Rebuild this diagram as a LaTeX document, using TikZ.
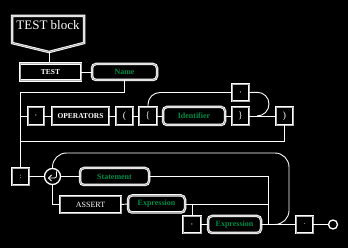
\documentclass[tikz,border=0pt]{standalone}
\usepackage{fontspec}
\setmainfont{Liberation Serif}
\definecolor{grn}{RGB}{0,140,70}
\begin{document}
\begin{tikzpicture}[x=1pt,y=-1pt,
 boxline/.style={draw=white, double=gray!60, line width=0.8pt, double distance=0.9pt},
 box/.style={boxline, inner sep=0pt, minimum height=17pt},
 tbox/.style={box, text=white, font=\fontsize{7.5}{8}\selectfont\bfseries},
 rbox/.style={box, rounded corners=4pt, text=grn, font=\fontsize{8}{9}\selectfont\bfseries},
 sym/.style={box, text=white, font=\fontsize{9.5}{10}\selectfont, minimum width=17pt},
 wire/.style={white, line width=0.9pt},
]
\fill[black] (0,0) rectangle (348,248);
% header
\draw[boxline] (12,16) -- (84,16) -- (84,43) -- (49,52) -- (12,43) -- cycle;
\node[text=white, font=\fontsize{13}{14}\selectfont] (headtxt) at (48,25) {TEST block};
\coordinate (headpt) at (49,52);
% row 1
\node[tbox, minimum width=61pt] (test) at (50.5,72) {TEST};
\node[rbox, minimum width=65pt, minimum height=16pt] (name) at (124.5,72) {Name};
% row 2
\node[sym, minimum height=18pt, minimum width=16pt, font=\fontsize{7}{8}\selectfont] (comma1) at (36,116) {,};
\node[tbox, minimum width=57pt, minimum height=18pt] (ops) at (80.5,116) {OPERATORS};
\node[sym, minimum height=18pt] (lpar) at (124.5,116) {(};
\node[sym, minimum height=18pt, minimum width=18pt] (lbrace) at (148,116) {\{};
\node[rbox, minimum width=62pt, minimum height=18pt] (ident) at (194,116) {Identifier};
\node[sym, minimum height=18pt] (rbrace) at (240.5,116) {\}};
\node[sym, minimum height=18pt] (rpar) at (284.5,116) {)};
\node[sym, font=\fontsize{7}{8}\selectfont] (comma2) at (240.5,92.5) {,};
% row 3
\node[sym, font=\fontsize{7}{8}\selectfont] (colon) at (20.5,176.5) {:};
\node[circle, draw=white, line width=1.3pt, minimum size=16pt, inner sep=0pt] (circ) at (52.5,176.5) {};
\node[rbox, minimum width=69pt] (stmt) at (114.5,176.5) {Statement};
\node[tbox, minimum width=61pt, font=\fontsize{8}{9}\selectfont] (assert) at (90.5,204.5) {ASSERT};
\node[rbox, minimum width=57pt] (expr1) at (156.5,204) {Expression};
\node[sym, minimum width=18pt, font=\fontsize{7}{8}\selectfont] (comma3) at (192,224.5) {,};
\node[rbox, minimum width=53pt] (expr2) at (234.5,224.5) {Expression};
\node[sym, font=\fontsize{7}{8}\selectfont] (dot) at (304.5,224.5) {.};
\node[circle, draw=white, line width=1.3pt, minimum size=9pt, inner sep=0pt] (endc) at (333,224.5) {};
% return symbol
\draw[white, line width=0.8pt, rounded corners=2pt] ([shift={(4,-5)}]circ.center) -- ([shift={(4,1.5)}]circ.center) -- ([shift={(-4,1.5)}]circ.center);
\draw[white, line width=0.8pt] ([shift={(-1,-1.5)}]circ.center) -- ([shift={(-4,1.5)}]circ.center) -- ([shift={(-1,4.5)}]circ.center);
% helper coordinates
\coordinate (y92) at (0,92);
\coordinate (y141) at (0,141);
\coordinate (l1) at (20.5,92);
\coordinate (l2) at (20.5,141);
\coordinate (l3) at (20.5,116);
\coordinate (rc) at (269,92);
\coordinate (rd) at (269,116);
\coordinate (rj) at (257,116);
\coordinate (s1) at (268,176.5);
\coordinate (s2) at (268,224.5);
\coordinate (s3) at (268,204);
\coordinate (e1) at (192,204);
\coordinate (t1) at (52.5,153);
\coordinate (t2) at (289,153);
\coordinate (t3) at (289,224.5);
\coordinate (t4) at (277,224.5);
% connectors
\draw[wire] (headpt) -- (headpt |- test.north);
\draw[wire] (test.east) -- (name.west);
\draw[wire] (name.south) -- (name.south |- y92) -- (l1) -- (colon.north);
\draw[wire] (l3) -- (comma1.west);
\draw[wire] (comma1.east) -- (ops.west);
\draw[wire] (ops.east) -- (lpar.west);
\draw[wire] (lpar.east) -- (lbrace.west);
\draw[wire] (lbrace.east) -- (ident.west);
\draw[wire] (ident.east) -- (rbrace.west);
\draw[wire] (rbrace.east) -- (rpar.west);
\draw[wire, rounded corners=12pt] (lbrace.north) -- (lbrace.north |- comma2.west) -- (comma2.west);
\draw[wire, rounded corners=12pt] (comma2.east) -- (rc) -- (rd) -- (rj);
\draw[wire] (rpar.south) -- (rpar.south |- y141) -- (l2);
\draw[wire] (colon.east) -- (circ.west);
\draw[wire] (circ.east) -- (stmt.west);
\draw[wire] (stmt.east) -- (s1) -- (s2);
\draw[wire] (circ.south) -- (circ.south |- assert.west) -- (assert.west);
\draw[wire] (assert.east) -- (expr1.west);
\draw[wire] (expr1.east) -- (s3);
\draw[wire] (e1) -- (comma3.north);
\draw[wire] (comma3.east) -- (expr2.west);
\draw[wire] (expr2.east) -- (dot.west);
\draw[wire] (dot.east) -- (endc.west);
\draw[wire, rounded corners=14pt] (circ.north) -- (t1) -- (t2) -- (t3) -- (t4);
\end{tikzpicture}
\end{document}
